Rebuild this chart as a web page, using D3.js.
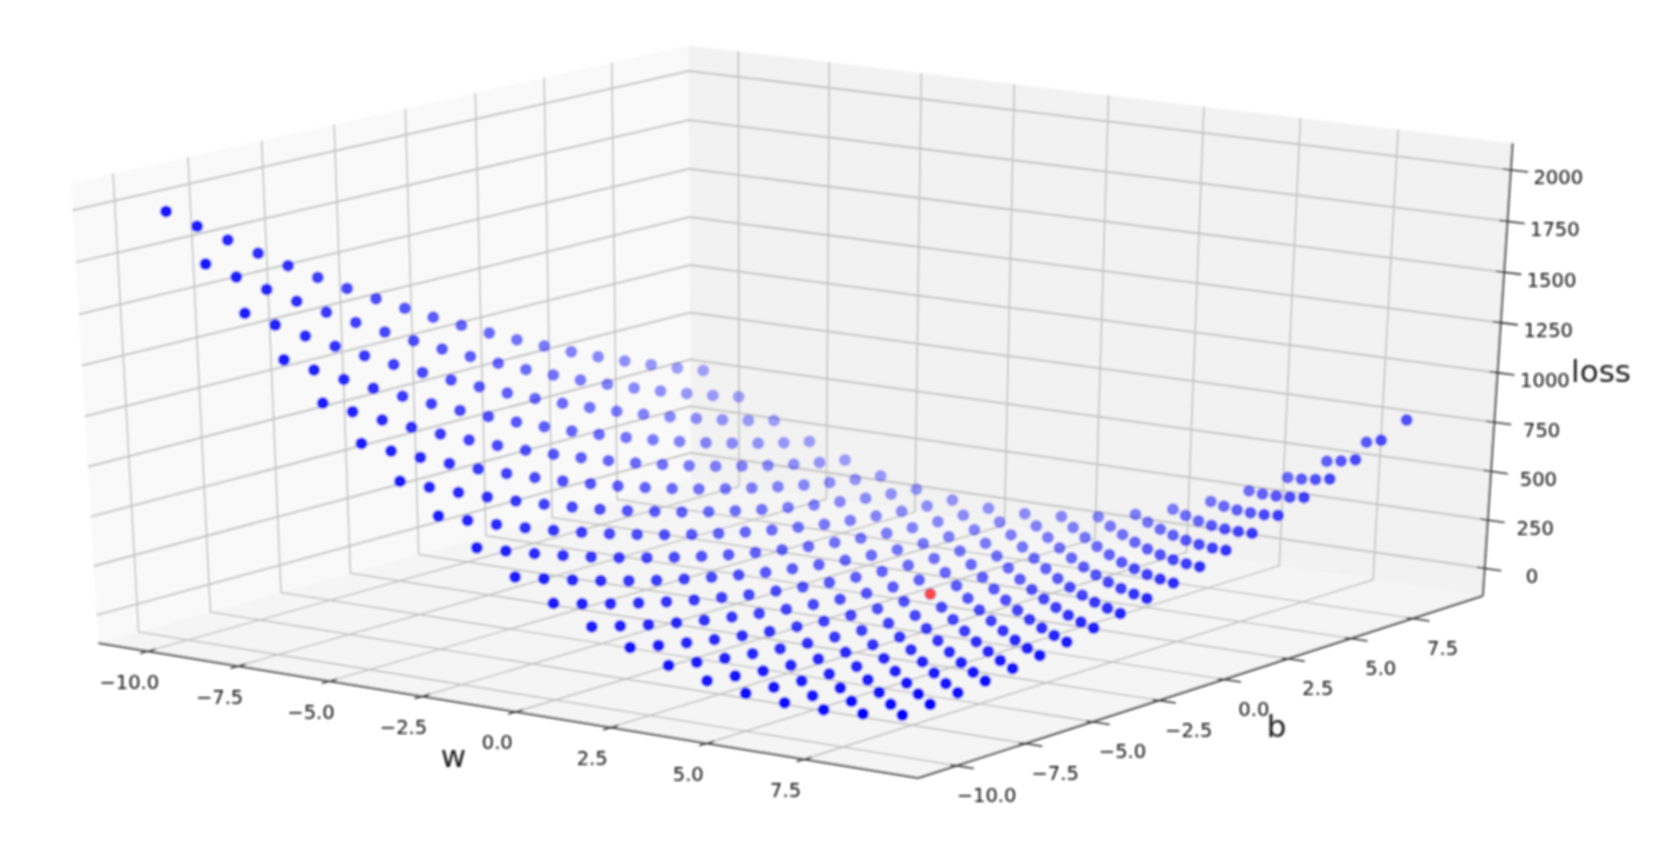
<!DOCTYPE html>
<html>
<head>
<meta charset="utf-8">
<title>loss surface</title>
<script src="https://cdn.jsdelivr.net/npm/d3@7"></script>
<style>
html, body { margin: 0; padding: 0; background: #fff; }
text { font-family: "DejaVu Sans", sans-serif; }
</style>
</head>
<body>
<svg id="chart" width="1679" height="856"></svg>
<script>
// values
var wValues = [-10, -9, -8, -7, -6, -5, -4, -3, -2, -1, 0, 1, 2, 3, 4, 5, 6, 7, 8, 9];
var bValues = [-10, -9, -8, -7, -6, -5, -4, -3, -2, -1, 0, 1, 2, 3, 4, 5, 6, 7, 8, 9];

// one row per w, one column per b
var lossValues = [
	[1981.5, 1878, 1777.5, 1680, 1585.5, 1494, 1405.5, 1320, 1237.5, 1158, 1081.5, 1008, 937.5, 870, 805.5, 744, 685.5, 630, 577.5, 528],
	[1754.5, 1657, 1562.5, 1471, 1382.5, 1297, 1214.5, 1135, 1058.5, 985, 914.5, 847, 782.5, 721, 662.5, 607, 554.5, 505, 458.5, 415],
	[1541.5, 1450, 1361.5, 1276, 1193.5, 1114, 1037.5, 964, 893.5, 826, 761.5, 700, 641.5, 586, 533.5, 484, 437.5, 394, 353.5, 316],
	[1342.5, 1257, 1174.5, 1095, 1018.5, 945, 874.5, 807, 742.5, 681, 622.5, 567, 514.5, 465, 418.5, 375, 334.5, 297, 262.5, 231],
	[1157.5, 1078, 1001.5, 928, 857.5, 790, 725.5, 664, 605.5, 550, 497.5, 448, 401.5, 358, 317.5, 280, 245.5, 214, 185.5, 160],
	[986.5, 913, 842.5, 775, 710.5, 649, 590.5, 535, 482.5, 433, 386.5, 343, 302.5, 265, 230.5, 199, 170.5, 145, 122.5, 103],
	[829.5, 762, 697.5, 636, 577.5, 522, 469.5, 420, 373.5, 330, 289.5, 252, 217.5, 186, 157.5, 132, 109.5, 90, 73.5, 60],
	[686.5, 625, 566.5, 511, 458.5, 409, 362.5, 319, 278.5, 241, 206.5, 175, 146.5, 121, 98.5, 79, 62.5, 49, 38.5, 31],
	[557.5, 502, 449.5, 400, 353.5, 310, 269.5, 232, 197.5, 166, 137.5, 112, 89.5, 70, 53.5, 40, 29.5, 22, 17.5, 16],
	[442.5, 393, 346.5, 303, 262.5, 225, 190.5, 159, 130.5, 105, 82.5, 63, 46.5, 33, 22.5, 15, 10.5, 9, 10.5, 15],
	[341.5, 298, 257.5, 220, 185.5, 154, 125.5, 100, 77.5, 58, 41.5, 28, 17.5, 10, 5.5, 4, 5.5, 10, 17.5, 28],
	[254.5, 217, 182.5, 151, 122.5, 97, 74.5, 55, 38.5, 25, 14.5, 7, 2.5, 1, 2.5, 7, 14.5, 25, 38.5, 55],
	[181.5, 150, 121.5, 96, 73.5, 54, 37.5, 24, 13.5, 6, 1.5, 0, 1.5, 6, 13.5, 24, 37.5, 54, 73.5, 96],
	[122.5, 97, 74.5, 55, 38.5, 25, 14.5, 7, 2.5, 1, 2.5, 7, 14.5, 25, 38.5, 55, 74.5, 97, 122.5, 151],
	[77.5, 58, 41.5, 28, 17.5, 10, 5.5, 4, 5.5, 10, 17.5, 28, 41.5, 58, 77.5, 100, 125.5, 154, 185.5, 220],
	[46.5, 33, 22.5, 15, 10.5, 9, 10.5, 15, 22.5, 33, 46.5, 63, 82.5, 105, 130.5, 159, 190.5, 225, 262.5, 303],
	[29.5, 22, 17.5, 16, 17.5, 22, 29.5, 40, 53.5, 70, 89.5, 112, 137.5, 166, 197.5, 232, 269.5, 310, 353.5, 400],
	[26.5, 25, 26.5, 31, 38.5, 49, 62.5, 79, 98.5, 121, 146.5, 175, 206.5, 241, 278.5, 319, 362.5, 409, 458.5, 511],
	[37.5, 42, 49.5, 60, 73.5, 90, 109.5, 132, 157.5, 186, 217.5, 252, 289.5, 330, 373.5, 420, 469.5, 522, 577.5, 636],
	[62.5, 73, 86.5, 103, 122.5, 145, 170.5, 199, 230.5, 265, 302.5, 343, 386.5, 433, 482.5, 535, 590.5, 649, 710.5, 775]
];

var minPoint = { w: [2], b: [1], loss: [0] };

var wTicks = [-10, -7.5, -5, -2.5, 0, 2.5, 5, 7.5];
var bTicks = [-10, -7.5, -5, -2.5, 0, 2.5, 5, 7.5];
var zTicks = [0, 250, 500, 750, 1000, 1250, 1500, 1750, 2000];
var wTickLabels = ["\u221210.0", "\u22127.5", "\u22125.0", "\u22122.5", "0.0", "2.5", "5.0", "7.5"];
var bTickLabels = ["\u221210.0", "\u22127.5", "\u22125.0", "\u22122.5", "0.0", "2.5", "5.0", "7.5"];
var zTickLabels = ["0", "250", "500", "750", "1000", "1250", "1500", "1750", "2000"];

var svg = d3.select("#chart");

// box coordinates, each axis runs 0..1 across the cube
var scaleW = d3.scaleLinear().domain([-11.385, 10.385]).range([0, 1]);
var scaleB = d3.scaleLinear().domain([-11.385, 10.385]).range([0, 1]);
var scaleZ = d3.scaleLinear().domain([-143, 2129]).range([0, 1]);

// perspective camera, fitted to the corners of the box in the picture
var camX = [770.7, 643.4, -30.14, 98.3];
var camY = [93.5, -128.8, -467.3, 643];
var camD = [-0.0534, 0.0734, -0.04, 1];

function depth(u, v, t) {
	return camD[0] * u + camD[1] * v + camD[2] * t + camD[3];
}

function project(u, v, t) {
	var d = depth(u, v, t);
	return [
		(camX[0] * u + camX[1] * v + camX[2] * t + camX[3]) / d,
		(camY[0] * u + camY[1] * v + camY[2] * t + camY[3]) / d
	];
}

var line3d = d3.line()
	.x(function (p) { return project(p[0], p[1], p[2])[0]; })
	.y(function (p) { return project(p[0], p[1], p[2])[1]; });

var defs = svg.append("defs");
defs.append("filter")
	.attr("id", "soft")
	.attr("x", "-5%").attr("y", "-5%").attr("width", "110%").attr("height", "110%")
	.append("feGaussianBlur").attr("stdDeviation", 0.8);

var root = svg.append("g").attr("filter", "url(#soft)");

// Panes
var panes = [
	{ fill: "#f9f9f9", pts: [[0, 0, 0], [0, 1, 0], [0, 1, 1], [0, 0, 1]] },
	{ fill: "#f2f2f2", pts: [[0, 1, 0], [1, 1, 0], [1, 1, 1], [0, 1, 1]] },
	{ fill: "#f5f5f5", pts: [[0, 0, 0], [1, 0, 0], [1, 1, 0], [0, 1, 0]] }
];
root.append("g").selectAll("path")
	.data(panes)
	.enter().append("path")
	.attr("d", function (d) { return line3d(d.pts) + "Z"; })
	.attr("fill", function (d) { return d.fill; });

// Grid
var gridLines = [];
wTicks.forEach(function (w) {
	var u = scaleW(w);
	gridLines.push({ width: 1.4, color: "#bcbcbc", pts: [[u, 0, 0], [u, 1, 0], [u, 1, 1]] });
});
bTicks.forEach(function (b) {
	var v = scaleB(b);
	gridLines.push({ width: 1.4, color: "#bcbcbc", pts: [[1, v, 0], [0, v, 0], [0, v, 1]] });
});
zTicks.forEach(function (z) {
	var t = scaleZ(z);
	gridLines.push({ width: 2, color: "#c4c4c4", pts: [[0, 0, t], [0, 1, t], [1, 1, t]] });
});
root.append("g").selectAll("path")
	.data(gridLines)
	.enter().append("path")
	.attr("d", function (d) { return line3d(d.pts); })
	.attr("fill", "none")
	.attr("stroke", function (d) { return d.color; })
	.attr("stroke-width", function (d) { return d.width; });

// Axis lines
var axisLines = [
	[[0, 0, 0], [1, 0, 0]],
	[[1, 0, 0], [1, 1, 0]],
	[[1, 1, 0], [1, 1, 1]]
];
root.append("g").selectAll("path")
	.data(axisLines)
	.enter().append("path")
	.attr("d", line3d)
	.attr("fill", "none")
	.attr("stroke", "#3f3f3f")
	.attr("stroke-width", 2);

// Ticks
var tickMarks = [];
wTicks.forEach(function (w) {
	var u = scaleW(w);
	tickMarks.push([[u, -0.012, 0], [u, 0.012, 0]]);
});
bTicks.forEach(function (b) {
	var v = scaleB(b);
	tickMarks.push([[0.993, v, 0], [1.02, v, 0]]);
});
zTicks.forEach(function (z) {
	var t = scaleZ(z);
	tickMarks.push([[0.991, 1, t], [1.02, 1, t]]);
});
root.append("g").selectAll("path")
	.data(tickMarks)
	.enter().append("path")
	.attr("d", line3d)
	.attr("fill", "none")
	.attr("stroke", "#333")
	.attr("stroke-width", 1.6);

// Tick labels
function addTickLabels(ticks, labels, toBox, dx, dy) {
	root.append("g").selectAll("text")
		.data(ticks)
		.enter().append("text")
		.attr("x", function (d) { var p = toBox(d); return project(p[0], p[1], p[2])[0] + dx; })
		.attr("y", function (d) { var p = toBox(d); return project(p[0], p[1], p[2])[1] + dy; })
		.attr("text-anchor", "middle")
		.attr("dominant-baseline", "central")
		.attr("font-size", 19.5)
		.attr("fill", "#111")
		.text(function (d, i) { return labels[i]; });
}
addTickLabels(wTicks, wTickLabels, function (w) { return [scaleW(w), 0, 0]; }, -18.5, 31);
addTickLabels(bTicks, bTickLabels, function (b) { return [1, scaleB(b), 0]; }, 30, 30);
addTickLabels(zTicks, zTickLabels, function (z) { return [1, 1, scaleZ(z)]; }, 47.5, 8);

// Scatter points, far ones first
var points = [];
wValues.forEach(function (w, i) {
	bValues.forEach(function (b, j) {
		var u = scaleW(w), v = scaleB(b), t = scaleZ(lossValues[i][j]);
		points.push({ u: u, v: v, t: t, depth: depth(u, v, t) });
	});
});
points.sort(function (a, b) { return b.depth - a.depth; });

var shade = d3.scaleLinear()
	.domain(d3.extent(points, function (d) { return d.depth; }))
	.range([1, 0.34]);

root.append("g").selectAll("circle")
	.data(points)
	.enter().append("circle")
	.attr("cx", function (d) { return project(d.u, d.v, d.t)[0]; })
	.attr("cy", function (d) { return project(d.u, d.v, d.t)[1]; })
	.attr("r", 6)
	.attr("fill", "#0000ff")
	.attr("fill-opacity", function (d) { return shade(d.depth); });

root.append("g").selectAll("circle")
	.data(minPoint.w)
	.enter().append("circle")
	.attr("cx", function (d, i) { return project(scaleW(d), scaleB(minPoint.b[i]), scaleZ(minPoint.loss[i]))[0]; })
	.attr("cy", function (d, i) { return project(scaleW(d), scaleB(minPoint.b[i]), scaleZ(minPoint.loss[i]))[1]; })
	.attr("r", 5.6)
	.attr("fill", "#ff4a4a");

// Axis titles
var titles = [
	{ text: "w", x: 453.5, y: 767 },
	{ text: "b", x: 1276.5, y: 737 },
	{ text: "loss", x: 1601, y: 381.5 }
];
root.append("g").selectAll("text")
	.data(titles)
	.enter().append("text")
	.attr("x", function (d) { return d.x; })
	.attr("y", function (d) { return d.y; })
	.attr("text-anchor", "middle")
	.attr("font-size", 31)
	.attr("fill", "#1a1a1a")
	.text(function (d) { return d.text; });
</script>
</body>
</html>
